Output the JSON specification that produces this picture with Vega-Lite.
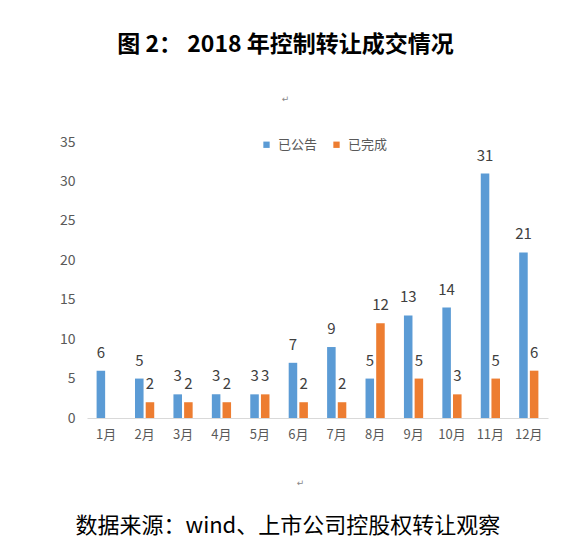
{
  "$schema": "https://vega.github.io/schema/vega-lite/v6.json",
  "width": 461,
  "height": 276,
  "autosize": "none",
  "padding": {"left": 87, "top": 142, "right": 26, "bottom": 135},
  "background": "white",
  "title": {
    "text": "图 2：  2018 年控制转让成交情况",
    "subtitle": "↵",
    "anchor": "middle",
    "dx": -32,
    "font": "Noto Sans CJK SC",
    "fontSize": 23,
    "fontWeight": "bold",
    "color": "#000000",
    "subtitleFont": "DejaVu Sans",
    "subtitleFontSize": 9,
    "subtitleColor": "#888888",
    "subtitlePadding": 38,
    "offset": 31
  },
  "data": {
    "values": [
      {"month": "1月", "type": "已公告", "count": 6},
      {"month": "2月", "type": "已公告", "count": 5},
      {"month": "2月", "type": "已完成", "count": 2},
      {"month": "3月", "type": "已公告", "count": 3},
      {"month": "3月", "type": "已完成", "count": 2},
      {"month": "4月", "type": "已公告", "count": 3},
      {"month": "4月", "type": "已完成", "count": 2},
      {"month": "5月", "type": "已公告", "count": 3},
      {"month": "5月", "type": "已完成", "count": 3},
      {"month": "6月", "type": "已公告", "count": 7},
      {"month": "6月", "type": "已完成", "count": 2},
      {"month": "7月", "type": "已公告", "count": 9},
      {"month": "7月", "type": "已完成", "count": 2},
      {"month": "8月", "type": "已公告", "count": 5},
      {"month": "8月", "type": "已完成", "count": 12},
      {"month": "9月", "type": "已公告", "count": 13},
      {"month": "9月", "type": "已完成", "count": 5},
      {"month": "10月", "type": "已公告", "count": 14},
      {"month": "10月", "type": "已完成", "count": 3},
      {"month": "11月", "type": "已公告", "count": 31},
      {"month": "11月", "type": "已完成", "count": 5},
      {"month": "12月", "type": "已公告", "count": 21},
      {"month": "12月", "type": "已完成", "count": 6}
    ]
  },
  "encoding": {
    "x": {
      "field": "month",
      "type": "nominal",
      "sort": null,
      "scale": {"paddingInner": 0.5, "paddingOuter": 0.25},
      "axis": {
        "title": "↵",
        "titleFont": "DejaVu Sans",
        "titleFontSize": 9,
        "titleFontWeight": "normal",
        "titleColor": "#888888",
        "titleX": 213,
        "titleY": 64,
        "titleBaseline": "middle",
        "labelAngle": 0,
        "labelFont": "Noto Sans CJK SC",
        "labelFontSize": 13,
        "labelColor": "#595959",
        "labelPadding": 10,
        "ticks": false,
        "domainColor": "#D9D9D9",
        "domainWidth": 1,
        "grid": false
      }
    },
    "xOffset": {
      "field": "type",
      "type": "nominal",
      "scale": {"domain": ["已公告", "已完成"], "paddingInner": 0.2}
    },
    "y": {
      "field": "count",
      "type": "quantitative",
      "scale": {"domain": [0, 35], "nice": false},
      "axis": {
        "values": [0, 5, 10, 15, 20, 25, 30, 35],
        "domain": false,
        "ticks": false,
        "grid": false,
        "labelFont": "Noto Sans CJK SC",
        "labelFontSize": 14,
        "labelColor": "#595959",
        "labelPadding": 12,
        "title": "数据来源：wind、上市公司控股权转让观察",
        "titleAngle": 0,
        "titleAlign": "left",
        "titleBaseline": "middle",
        "titleX": -12,
        "titleY": 383,
        "titleFont": "Noto Sans CJK SC",
        "titleFontSize": 22,
        "titleFontWeight": "normal",
        "titleColor": "#000000"
      }
    }
  },
  "layer": [
    {
      "mark": {"type": "bar"},
      "encoding": {
        "color": {
          "field": "type",
          "type": "nominal",
          "scale": {"domain": ["已公告", "已完成"], "range": ["#5B9BD5", "#ED7D31"]},
          "legend": {
            "title": null,
            "orient": "none",
            "direction": "horizontal",
            "legendX": 173,
            "legendY": -4,
            "symbolType": "square",
            "symbolSize": 40,
            "symbolStrokeWidth": 0,
            "labelFont": "Noto Sans CJK SC",
            "labelFontSize": 13,
            "labelColor": "#595959",
            "labelOffset": 5,
            "columnPadding": 12
          }
        }
      }
    },
    {
      "mark": {
        "type": "text",
        "baseline": "alphabetic",
        "dy": -13,
        "font": "Noto Sans CJK SC",
        "fontSize": 15,
        "color": "#404040"
      },
      "encoding": {
        "text": {"field": "count", "type": "quantitative"}
      }
    }
  ],
  "config": {
    "view": {"stroke": null}
  }
}
